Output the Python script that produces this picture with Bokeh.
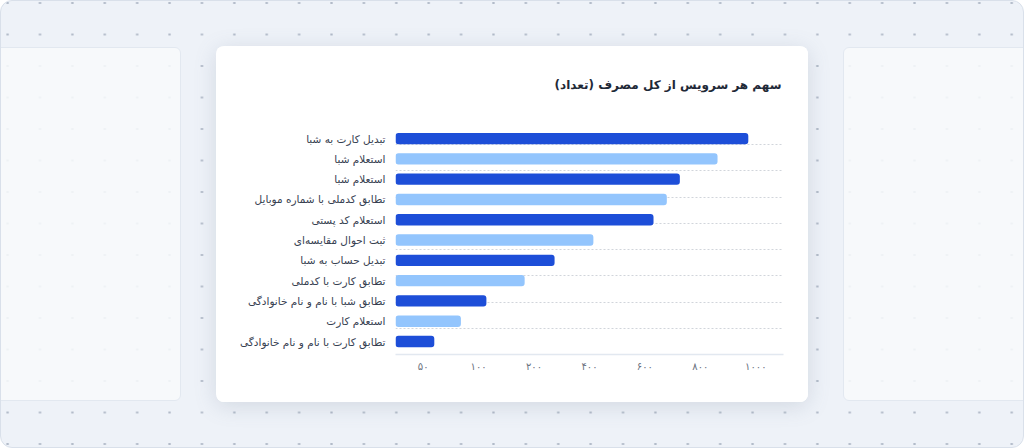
import numpy as np
from bokeh.plotting import figure
from bokeh.layouts import column
from bokeh.models import Range1d, FixedTicker, ColumnDataSource, Div
from bokeh.embed import file_html
from bokeh.resources import INLINE

# ---------------- data ----------------
title_text = "سهم هر سرویس از کل مصرف (تعداد)"
services = [
    "تبدیل کارت به شبا",
    "استعلام شبا",
    "استعلام شبا",
    "تطابق کدملی با شماره موبایل",
    "استعلام کد پستی",
    "ثبت احوال مقایسه‌ای",
    "تبدیل حساب به شبا",
    "تطابق کارت با کدملی",
    "تطابق شبا با نام و نام خانوادگی",
    "استعلام کارت",
    "تطابق کارت با نام و نام خانوادگی",
]
counts = [973, 862, 726, 679, 631, 414, 274, 183, 114, 84, 60]
tick_values = [50, 100, 200, 400, 600, 800, 1000]
tick_labels = ["۵۰", "۱۰۰", "۲۰۰", "۴۰۰", "۶۰۰", "۸۰۰", "۱۰۰۰"]
bar_colors = ["#1D4ED8", "#93C5FD"]

FONT = "DejaVu Sans"
W, H = 1024, 448
CARD = (216, 46, 808, 402)           # card on the page (left, top, right, bottom)

# ---------------- page background (plain HTML/CSS, no data) ----------------
panel = ("position:absolute;top:46px;height:354px;border-radius:6px;"
         "background:rgba(248,250,252,0.86);border:1px solid #e2e8f0;")
page_html = (
    f'<div style="position:relative;width:{W}px;height:{H}px;box-sizing:border-box;'
    'border:1px solid #d9e0ea;border-radius:12px;overflow:hidden;'
    'background-color:#eef2f8;'
    'background-image:radial-gradient(circle, #b1bac8 1px, rgba(0,0,0,0) 1.3px);'
    'background-size:32.4px 31.5px;background-position:-9.6px -13.75px;">'
    f'<div style="{panel}left:-20px;width:200px;"></div>'
    f'<div style="{panel}left:842px;width:200px;"></div>'
    '</div>'
)
page = Div(text=page_html, width=W, height=H,
           styles={"margin": "0", "padding": "0"})

# ---------------- chart card ----------------
n = len(services)
tick_idx = np.arange(len(tick_values))
bar_pos = np.interp(counts, tick_values, tick_idx)   # ticks are evenly spaced
rows = np.arange(n)[::-1]

CW, CH = CARD[2] - CARD[0], CARD[3] - CARD[1]
FL, FR, FT, FB = 395, 783, 118, 354   # frame edges on the page
y0, y1 = -0.64, 10.99

p = figure(width=CW, height=CH, output_backend="svg", toolbar_location=None,
           x_range=Range1d(-0.5, len(tick_values) - 0.5),
           y_range=Range1d(y0, y1),
           min_border_left=FL - CARD[0], min_border_right=CARD[2] - FR,
           min_border_top=FT - CARD[1], min_border_bottom=CARD[3] - FB,
           border_fill_color="white", background_fill_color=None,
           outline_line_color=None, title=title_text,
           styles={"position": "absolute", "left": f"{CARD[0]}px",
                   "top": f"{CARD[1]}px", "border-radius": "8px",
                   "overflow": "hidden", "background": "white",
                   "box-shadow": "0 4px 22px rgba(100,116,139,0.20)"})

p.title.align = "right"
p.title.text_font = FONT
p.title.text_font_size = "12px"
p.title.text_font_style = "bold"
p.title.text_color = "#1f2937"
p.title.standoff = 54
p.title.offset = 2

src = ColumnDataSource(dict(y=rows, right=bar_pos,
                            color=[bar_colors[i % 2] for i in range(n)]))
p.hbar(y="y", left=-0.56, right="right", height=0.56, source=src,
       fill_color="color", line_color=None, border_radius=3)

grid_pos = [y0 + k * (y1 - y0) / 9 for k in range(1, 9)]
p.xgrid.visible = False
p.ygrid.ticker = FixedTicker(ticks=grid_pos)
p.ygrid.grid_line_color = "#d1d5db"
p.ygrid.grid_line_dash = "2 2"
p.ygrid.grid_line_width = 1

p.xaxis.ticker = FixedTicker(ticks=list(tick_idx))
p.xaxis.major_label_overrides = {int(i): lab for i, lab in zip(tick_idx, tick_labels)}
p.xaxis.axis_line_color = "#e2e8f0"
p.xaxis.axis_line_width = 1.5
p.xaxis.major_tick_line_color = None
p.xaxis.minor_tick_line_color = None
p.xaxis.major_label_text_font = FONT
p.xaxis.major_label_text_font_size = "10px"
p.xaxis.major_label_text_color = "#6b7280"
p.xaxis.major_label_standoff = 0

p.yaxis.ticker = FixedTicker(ticks=list(range(n)))
p.yaxis.major_label_overrides = {int(r): s for r, s in zip(rows, services)}
p.yaxis.axis_line_color = None
p.yaxis.major_tick_line_color = None
p.yaxis.minor_tick_line_color = None
p.yaxis.major_label_text_font = FONT
p.yaxis.major_label_text_font_size = "10.5px"
p.yaxis.major_label_text_color = "#374151"
p.yaxis.major_label_standoff = 4

root = column(page, p, width=W, height=H, styles={"position": "relative"})
open("out.html", "w").write(file_html(root, INLINE))
